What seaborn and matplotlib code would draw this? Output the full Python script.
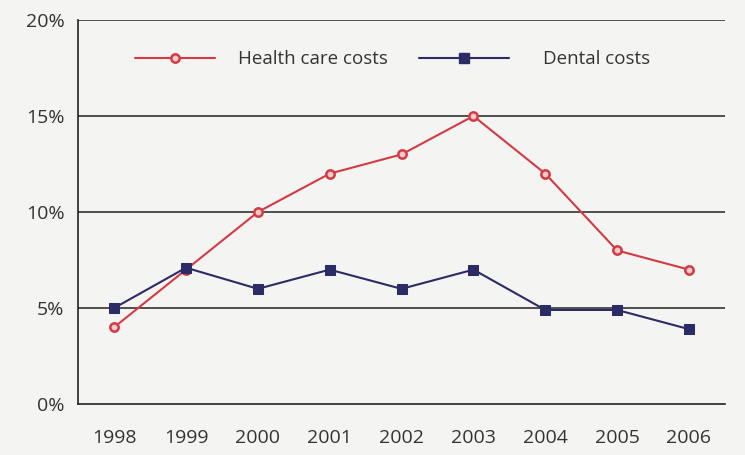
import matplotlib
matplotlib.use("Agg")
import matplotlib.pyplot as plt
import seaborn as sns
import pandas as pd

years = [1998, 1999, 2000, 2001, 2002, 2003, 2004, 2005, 2006]
health = [4.0, 7.0, 10.0, 12.0, 13.0, 15.0, 12.0, 8.0, 7.0]
dental = [5.0, 7.1, 6.0, 7.0, 6.0, 7.0, 4.9, 4.9, 3.9]
series_names = ["Health care costs", "Dental costs"]
y_ticks = [0, 5, 10, 15, 20]

sns.set_theme(style="white")
plt.rcParams['font.family'] = ['Open Sans', 'DejaVu Sans']

df = pd.DataFrame({
    "year": years * 2,
    "value": health + dental,
    "series": [series_names[0]] * len(years) + [series_names[1]] * len(years),
})

bg = "#f4f4f2"
fig = plt.figure(figsize=(7.45, 4.55), dpi=100, facecolor=bg)
ax = fig.add_axes([0.105, 0.112, 0.868, 0.844])
ax.set_facecolor(bg)

for y in y_ticks[1:]:
    ax.axhline(y, color="#222222", lw=1.1, zorder=1)

red = "#d23a44"
navy = "#2b2b66"
palette = {series_names[0]: red, series_names[1]: navy}
sns.lineplot(data=df, x="year", y="value", hue="series", style="series",
             markers={series_names[0]: "o", series_names[1]: "s"},
             dashes=False, palette=palette, ax=ax, lw=1.5, legend=False, zorder=3)

for ln in ax.get_lines():
    if ln.get_marker() == "o":
        ln.set_markersize(6)
        ln.set_markerfacecolor("#f6c9cc")
        ln.set_markeredgecolor(red)
        ln.set_markeredgewidth(1.8)
    elif ln.get_marker() == "s":
        ln.set_markersize(7)
        ln.set_markerfacecolor(navy)
        ln.set_markeredgecolor(navy)

from matplotlib.lines import Line2D
h_health = Line2D([], [], color=red, lw=1.5, marker="o", markersize=6,
                  markerfacecolor="#f6c9cc", markeredgecolor=red, markeredgewidth=1.8)
h_dental = Line2D([], [], color=navy, lw=1.5, marker="s", markersize=7,
                  markerfacecolor=navy, markeredgecolor=navy)

leg1 = ax.legend([h_health], [series_names[0]], loc="upper left",
                 bbox_to_anchor=(0.061, 0.965), frameon=False, handlelength=4.3,
                 handletextpad=1.2, fontsize=13.5)
ax.add_artist(leg1)
leg2 = ax.legend([h_dental], [series_names[1]], loc="upper left",
                 bbox_to_anchor=(0.5015, 0.965), frameon=False, handlelength=4.8,
                 handletextpad=1.8, fontsize=13.5)
for lg in (leg1, leg2):
    for t in lg.get_texts():
        t.set_color("#333333")

ax.set_xlim(1997.5, 2006.5)
ax.set_ylim(0, 20)
ax.set_xticks(years)
ax.set_xticklabels([str(y) for y in years])
ax.set_yticks(y_ticks)
ax.set_yticklabels([f"{v}%" for v in y_ticks])
ax.set_xlabel("")
ax.set_ylabel("")

for s in ["top", "right"]:
    ax.spines[s].set_visible(False)
for s in ["left", "bottom"]:
    ax.spines[s].set_color("#222222")
    ax.spines[s].set_linewidth(1.2)

ax.tick_params(axis="both", which="major", direction="out", length=6, width=1.1,
               color="#222222", labelsize=14, labelcolor="#333333")
ax.tick_params(axis="x", pad=12)
ax.tick_params(axis="y", pad=4)

fig.savefig("out.png", dpi=100, facecolor=bg)
